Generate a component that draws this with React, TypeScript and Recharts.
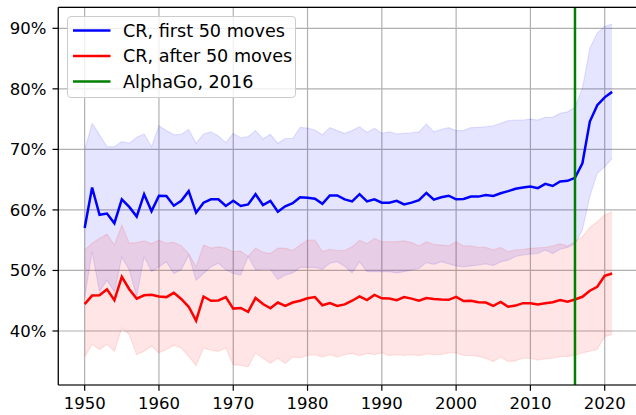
import {
  Area,
  CartesianGrid,
  ComposedChart,
  Legend,
  Line,
  ReferenceLine,
  XAxis,
  YAxis,
} from "recharts";

const years = [
  1950, 1951, 1952, 1953, 1954, 1955, 1956, 1957, 1958, 1959,
  1960, 1961, 1962, 1963, 1964, 1965, 1966, 1967, 1968, 1969,
  1970, 1971, 1972, 1973, 1974, 1975, 1976, 1977, 1978, 1979,
  1980, 1981, 1982, 1983, 1984, 1985, 1986, 1987, 1988, 1989,
  1990, 1991, 1992, 1993, 1994, 1995, 1996, 1997, 1998, 1999,
  2000, 2001, 2002, 2003, 2004, 2005, 2006, 2007, 2008, 2009,
  2010, 2011, 2012, 2013, 2014, 2015, 2016, 2017, 2018, 2019,
  2020, 2021,
];

// CR, first 50 moves (mean and band)
const firstMean = [
  57.0, 63.7, 59.2, 59.4, 57.8, 61.75, 60.5, 58.9, 62.6, 59.8,
  62.35, 62.3, 60.7, 61.5, 63.1, 59.55, 61.2, 61.75, 61.75, 60.65,
  61.5, 60.65, 60.9, 62.6, 60.8, 61.5, 59.7, 60.6, 61.1, 62.1,
  62.0, 61.85, 61.0, 62.4, 62.4, 61.75, 61.4, 62.6, 61.4, 61.75,
  61.2, 61.2, 61.5, 60.9, 61.2, 61.6, 62.8, 61.7, 62.1, 62.35,
  61.75, 61.8, 62.2, 62.2, 62.45, 62.3, 62.75, 63.1, 63.5, 63.7,
  63.85, 63.6, 64.3, 63.95, 64.7, 64.8, 65.3, 67.7, 74.6, 77.3,
  78.6, 79.5,
];
const firstLow = [
  45.5, 53.1, 46.5, 48.4, 46.5, 52.2, 50.1, 45.7, 52.3, 49.8,
  50.6, 51.45, 49.5, 50.1, 52.55, 48.4, 49.5, 50.6, 51.2, 50.1,
  49.5, 49.25, 52.3, 50.1, 50.2, 50.2, 48.5, 49.25, 49.6, 50.5,
  50.5, 50.5, 50.2, 51.2, 51.45, 50.7, 49.6, 51.45, 49.8, 49.8,
  49.8, 49.8, 49.6, 49.8, 50.1, 50.35, 51.3, 51.0, 51.45, 51.1,
  50.75, 50.6, 50.75, 50.9, 51.1, 50.8, 51.45, 51.7, 52.3, 52.55,
  52.7, 52.8, 53.4, 52.8, 53.5, 53.8, 54.4, 56.7, 62.2, 66.05,
  67.1, 68.5,
];
const firstHigh = [
  69.9, 74.3, 72.4, 70.45, 70.45, 71.3, 71.0, 72.0, 72.55, 70.45,
  73.9, 73.1, 72.4, 72.5, 73.3, 71.0, 72.55, 72.9, 72.2, 71.1,
  72.65, 71.9, 72.1, 73.1, 71.7, 72.5, 71.0, 71.8, 71.8, 73.65,
  73.5, 73.2, 72.4, 73.6, 73.1, 72.65, 73.1, 73.75, 72.8, 73.5,
  72.65, 72.9, 72.55, 72.65, 72.75, 72.9, 74.2, 72.9, 73.3, 73.6,
  73.1, 73.1, 73.6, 73.65, 73.75, 73.9, 74.3, 74.75, 74.85, 74.85,
  75.0, 74.85, 75.3, 75.3, 75.95, 76.2, 76.95, 80.1, 86.7, 89.2,
  90.3, 90.7,
];

// CR, after 50 moves (mean and band)
const afterMean = [
  44.45, 45.85, 45.9, 46.9, 45.1, 48.95, 46.9, 45.35, 45.9, 46.0,
  45.7, 45.6, 46.3, 45.3, 44.0, 41.7, 45.7, 45.0, 45.05, 45.6,
  43.7, 43.8, 43.15, 45.45, 44.45, 43.75, 44.7, 44.15, 44.7, 45.0,
  45.4, 45.6, 44.25, 44.6, 44.15, 44.4, 45.0, 45.7, 45.1, 45.95,
  45.4, 45.35, 45.1, 45.6, 45.35, 45.0, 45.45, 45.3, 45.2, 45.15,
  45.65, 44.95, 45.0, 44.75, 44.7, 44.15, 44.8, 44.0, 44.2, 44.6,
  44.6, 44.4, 44.6, 44.75, 45.1, 44.85, 45.2, 45.65, 46.65, 47.3,
  49.1, 49.5,
];
const afterLow = [
  35.8, 37.8, 36.95, 37.8, 36.65, 40.5, 39.4, 36.1, 36.65, 37.5,
  36.4, 36.95, 37.65, 37.2, 35.8, 34.3, 37.2, 36.8, 36.65, 37.2,
  34.4, 34.35, 34.1, 36.4, 35.5, 34.65, 35.5, 34.65, 35.7, 35.6,
  35.95, 36.1, 35.7, 36.1, 35.7, 36.1, 36.3, 35.95, 36.3, 36.1,
  36.4, 35.95, 36.1, 35.95, 36.1, 35.95, 36.2, 36.1, 36.1, 36.4,
  36.4, 35.95, 35.95, 35.8, 35.5, 34.95, 35.7, 34.95, 35.1, 35.5,
  35.5, 35.2, 35.4, 35.5, 35.8, 35.8, 35.95, 36.4, 36.65, 37.0,
  39.1, 39.4,
];
const afterHigh = [
  53.4, 54.5, 55.3, 56.0, 54.2, 57.5, 54.5, 54.6, 54.9, 54.4,
  55.0, 54.5, 54.65, 54.1, 52.8, 50.6, 54.2, 53.7, 53.9, 53.7,
  53.1, 53.2, 52.3, 53.7, 53.0, 52.8, 53.7, 53.7, 53.3, 54.2,
  55.0, 55.0, 53.1, 53.5, 53.3, 53.3, 53.9, 55.0, 54.4, 55.3,
  54.75, 54.75, 54.75, 54.9, 54.6, 54.05, 54.75, 54.3, 54.2, 54.05,
  54.75, 54.05, 54.05, 53.8, 53.8, 53.4, 53.8, 53.1, 53.4, 53.5,
  53.65, 53.75, 53.8, 54.05, 54.4, 54.05, 54.75, 55.6, 57.1, 58.05,
  59.15, 59.7,
];

const xTicks = [1950, 1960, 1970, 1980, 1990, 2000, 2010, 2020];
const yTicks = [40, 50, 60, 70, 80, 90];
const alphaGoYear = 2016;

const legendItems = [
  { label: "CR, first 50 moves", color: "#0000ff" },
  { label: "CR, after 50 moves", color: "#ff0000" },
  { label: "AlphaGo, 2016", color: "#008000" },
];

const data = years.map((year, i) => ({
  year,
  firstMean: firstMean[i],
  firstBand: [firstLow[i], firstHigh[i]],
  afterMean: afterMean[i],
  afterBand: [afterLow[i], afterHigh[i]],
}));

const FONT = "'DejaVu Sans', sans-serif";
const FS = 16.5;
const LEGEND_FS = 17.6;
const Y_MIN = 31.08;
const Y_MAX = 93.47;

function LegendBox() {
  return (
    <div
      style={{
        width: 229,
        height: 82,
        boxSizing: "border-box",
        border: "1px solid #cccccc",
        borderRadius: 4,
        background: "rgba(255,255,255,0.8)",
      }}
    >
      <svg width={229} height={82} style={{ position: "absolute", left: 0, top: 0 }}>
        {legendItems.map((it, i) => {
          const cy = 14.5 + i * 25.5;
          return (
            <g key={it.label}>
              <line x1={6} x2={43.5} y1={cy} y2={cy} stroke={it.color} strokeWidth={2.5} />
              <text x={56} y={cy + 6.3} fontFamily={FONT} fontSize={LEGEND_FS} fill="#000">
                {it.label}
              </text>
            </g>
          );
        })}
      </svg>
    </div>
  );
}

export default function App() {
  return (
    <div
      style={{
        position: "absolute",
        left: 0,
        top: 0,
        width: 636,
        height: 415,
        overflow: "hidden",
        background: "#fff",
      }}
    >
      <ComposedChart
        width={660}
        height={415}
        data={data}
        margin={{ top: 7.3, right: 21.5, bottom: 0, left: 0 }}
      >
        <CartesianGrid stroke="#b0b0b0" strokeWidth={1.2} />
        <XAxis
          dataKey="year"
          type="number"
          domain={[1946.45, 2024.55]}
          ticks={xTicks}
          allowDataOverflow
          height={30}
          tick={{ fill: "#000", fontSize: FS, fontFamily: FONT }}
          tickSize={5.8}
          tickMargin={6}
          tickLine={{ stroke: "#000", strokeWidth: 1.2 }}
          axisLine={{ stroke: "#000", strokeWidth: 1.2 }}
        />
        <YAxis
          type="number"
          domain={[Y_MIN, Y_MAX]}
          ticks={yTicks}
          allowDataOverflow
          width={58.3}
          tickFormatter={(v: number) => `${v}%`}
          tick={{ fill: "#000", fontSize: FS, fontFamily: FONT }}
          tickSize={5.8}
          tickMargin={6}
          tickLine={{ stroke: "#000", strokeWidth: 1.2 }}
          axisLine={{ stroke: "#000", strokeWidth: 1.2 }}
        />
        <Area
          type="linear"
          dataKey="firstBand"
          fill="#0000ff"
          fillOpacity={0.1}
          stroke="#0000ff"
          strokeOpacity={0.1}
          strokeWidth={1.2}
          dot={false}
          activeDot={false}
          isAnimationActive={false}
        />
        <Area
          type="linear"
          dataKey="afterBand"
          fill="#ff0000"
          fillOpacity={0.1}
          stroke="#ff0000"
          strokeOpacity={0.1}
          strokeWidth={1.2}
          dot={false}
          activeDot={false}
          isAnimationActive={false}
        />
        <Line
          type="linear"
          dataKey="firstMean"
          stroke="#0000ff"
          strokeWidth={2.5}
          dot={false}
          activeDot={false}
          isAnimationActive={false}
        />
        <Line
          type="linear"
          dataKey="afterMean"
          stroke="#ff0000"
          strokeWidth={2.5}
          dot={false}
          activeDot={false}
          isAnimationActive={false}
        />
        <ReferenceLine x={alphaGoYear} stroke="#008000" strokeWidth={2.5} />
        <ReferenceLine y={Y_MAX} stroke="#000" strokeWidth={1.2} />
        <Legend
          layout="vertical"
          align="center"
          verticalAlign="middle"
          content={() => <LegendBox />}
          wrapperStyle={{ left: 66.7, top: 15.7, width: 229, height: 82 }}
        />
      </ComposedChart>
    </div>
  );
}
